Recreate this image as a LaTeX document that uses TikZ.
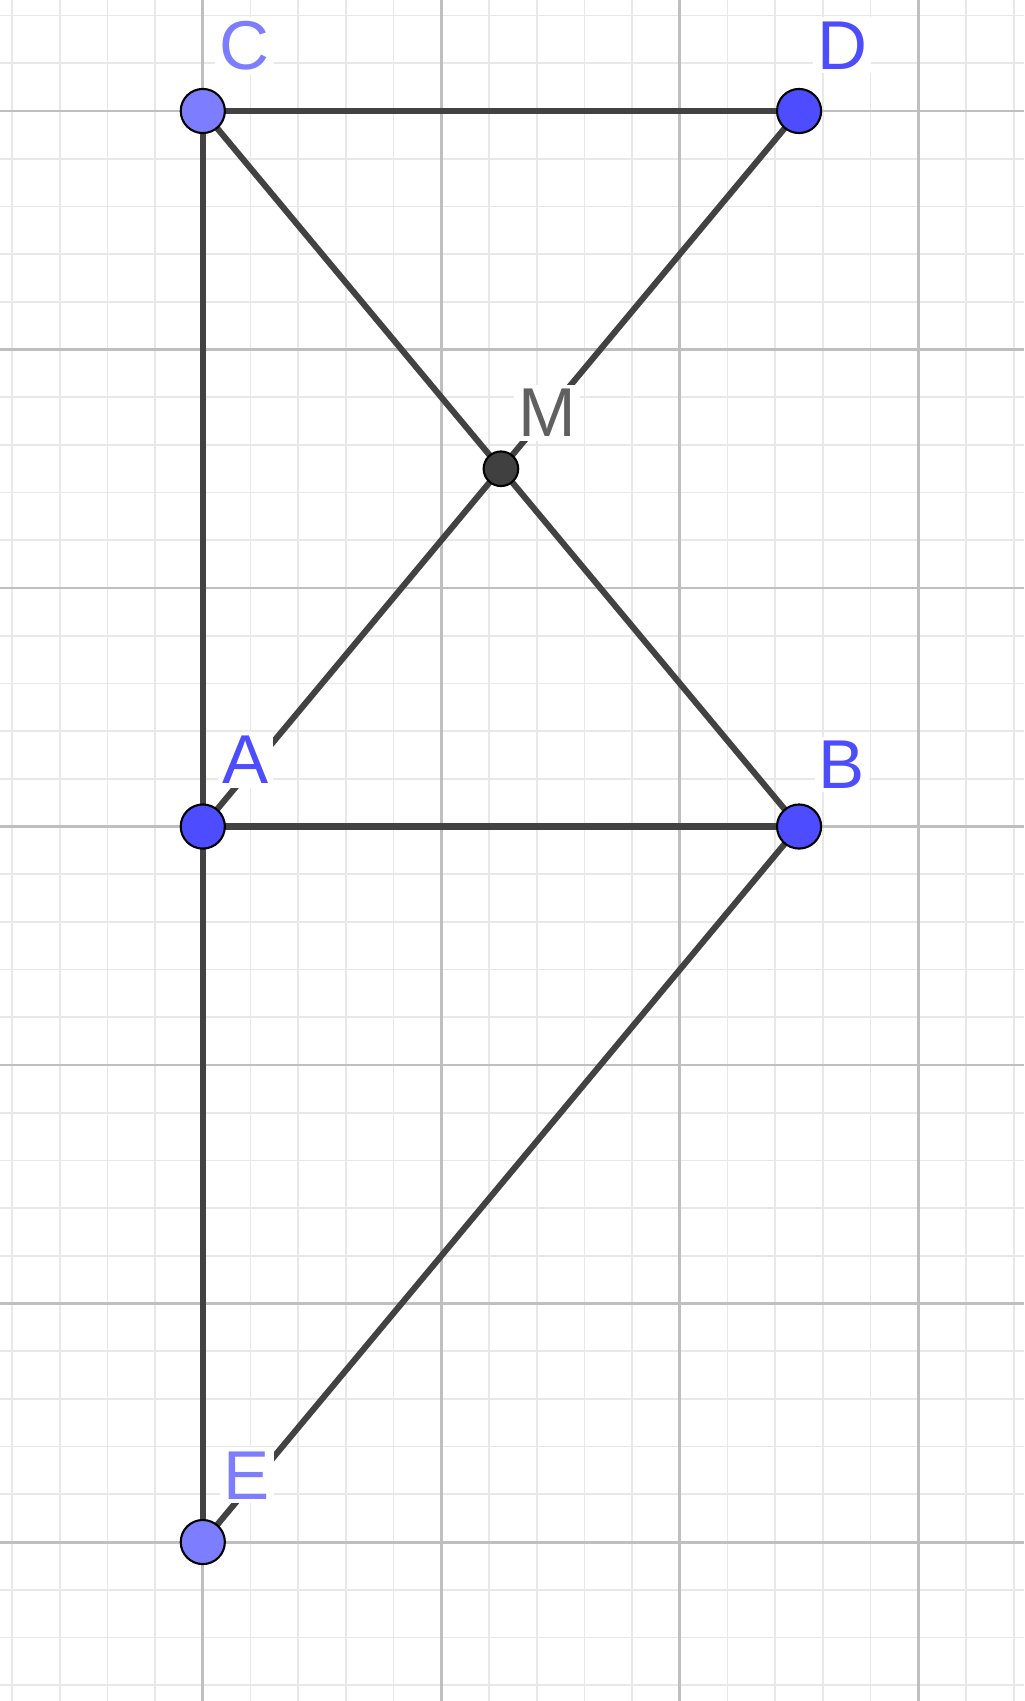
\documentclass[tikz,border=0pt]{standalone}
\usepackage{fontspec}
\setmainfont{Liberation Sans}
\usetikzlibrary{positioning}

\pgfdeclarelayer{grid}
\pgfdeclarelayer{segs}
\pgfsetlayers{grid,segs,main}

\definecolor{freept}{RGB}{77,77,255}
\definecolor{pathpt}{RGB}{125,125,255}
\definecolor{deppt}{RGB}{64,64,64}
\definecolor{deplbl}{RGB}{96,96,96}
\definecolor{segc}{RGB}{66,66,66}

\begin{document}
\begin{tikzpicture}
[
    x=1cm, y=1cm,
    % The points are named by their letters: A, B, C, D, E, M
    % Their labels are named A-l ... M-l
]

%=================================== Start ===================================
\tikzstyle{pt}  = [circle, draw=black, line width=0.5pt, minimum size=0.37cm,
                   inner sep=0pt, outer sep=0pt]
\tikzstyle{lbl} = [fill=white, inner sep=1pt, font=\fontsize{16.5}{18}\selectfont]
\tikzstyle{sg}  = [draw=segc, line width=1.45pt]

\useasboundingbox (-1.7006,-7.333) rectangle (6.8866,6.931);

{
    % Draw the grid
    \begin{pgfonlayer}{grid}
        \draw[gray!18, line width=0.4pt] (-1.7006,-7.333) grid[step=0.4] (6.8866,6.931);
        \draw[gray!50, line width=0.7pt] (-1.7006,-7.333) grid[step=2] (6.8866,6.931);
    \end{pgfonlayer}

    % Draw the points
    \foreach \n / \x / \y / \c in {A/0/0/freept, B/5/0/freept, D/5/6/freept,
                                   C/0/6/pathpt, E/0/-6/pathpt}
        \node[pt, fill=\c] (\n) at (\x,\y) {};
    \node[pt, fill=deppt, minimum size=0.29cm] (M) at (2.5,3) {};

    % Draw the segments
    \begin{pgfonlayer}{segs}
        \foreach \a / \b in {C/D, C/A, A/E, A/B, C/M, M/B, D/M, M/A, B/E}
            \draw[sg] (\a) -- (\b);
    \end{pgfonlayer}

    % Draw the labels
    \foreach \n / \c / \dx / \dy in {A/freept/0.36/0.56, B/freept/0.36/0.52,
                                     C/pathpt/0.35/0.55, D/freept/0.36/0.55,
                                     E/pathpt/0.37/0.56, M/deplbl/0.39/0.47}
        \node[lbl, text=\c] (\n-l) at ([shift={(\dx,\dy)}]\n) {\n};
}
%==================================== END ====================================

\end{tikzpicture}
\end{document}
